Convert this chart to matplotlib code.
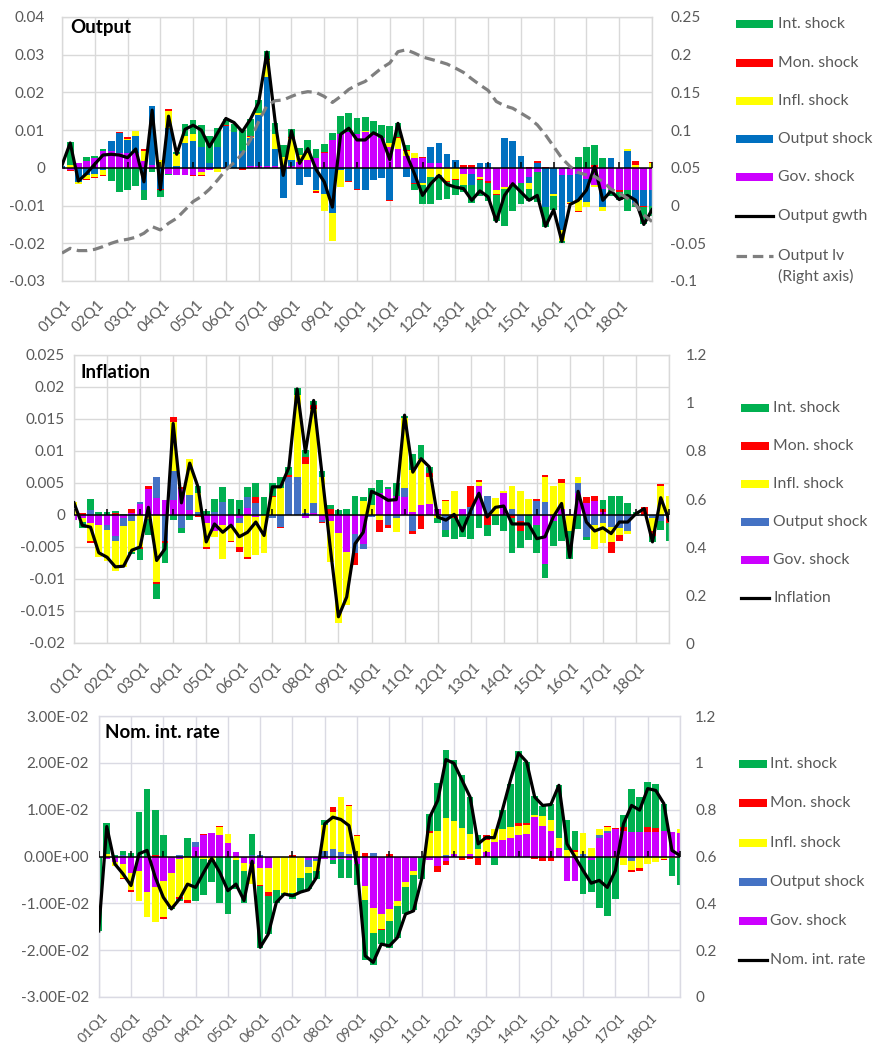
import numpy as np
import matplotlib
matplotlib.use('Agg')
import matplotlib.pyplot as plt
from matplotlib.patches import Rectangle
from matplotlib.lines import Line2D
from matplotlib.transforms import ScaledTranslation

plt.rcParams['font.family'] = ['Lato', 'DejaVu Sans']

# ---------------- data ----------------
quarters = [f"{y:02d}Q{q}" for y in range(1, 20) for q in range(1, 5)][:73]
tick_labels = [q if q != '19Q1' else '' for q in quarters[::4]]

shock_names = ['Int. shock', 'Mon. shock', 'Infl. shock', 'Output shock', 'Gov. shock']

# Output panel
out_gov = [-0.0003,-0.0005,0.0013,0.0017,0.0025,0.0045,0.0045,0.004,0.004,0.004,
 0.0018,0.0008,0.0002,-0.0015,-0.0018,-0.002,-0.002,-0.001,-0.0005,0,
 0.0003,0,0,0.0005,0.0005,0.0005,0.0005,0.0005,0.0005,0.0015,
 0.002,0.0025,0.004,0.0075,0.009,0.0095,0.009,0.0095,0.009,0.008,
 0.0055,0.005,0.0032,0.0025,0.0025,0.0013,0.0012,0.0003,0,-0.0015,
 -0.0015,-0.0025,-0.0035,-0.006,-0.005,-0.0045,-0.004,-0.0025,-0.001,0,
 0,-0.0018,-0.0018,-0.0015,-0.003,-0.0045,-0.0055,-0.006,-0.006,-0.006,
 -0.006,-0.006,-0.006]
out_out = [0.0005,0,-0.0037,-0.002,-0.0015,-0.0007,0.0025,0.0053,0.0033,0.0045,
 -0.006,0.0157,-0.0055,0.0105,0.0005,0.0065,0.0072,0.0056,0.0012,0.0055,
 0.0107,0.0095,0.0045,0.0075,0.0135,0.0235,0.0045,-0.008,0.0015,-0.0045,
 -0.0025,-0.0058,-0.0068,-0.012,-0.0005,-0.0035,-0.0055,-0.006,-0.0033,-0.0028,
 -0.0085,0,-0.0025,-0.004,-0.004,0.0042,0.0053,0.0034,0.002,0,
 -0.003,0.0013,0.0012,0,0.0078,0.0072,0.0032,-0.0015,0.0012,-0.0105,
 -0.007,-0.0147,-0.0072,-0.007,-0.006,0,-0.005,0.0025,0,0.0045,
 -0.0035,-0.004,-0.004]
out_infl = [0,0.0008,-0.0005,-0.001,-0.0009,-0.0012,0,0,0.0004,0.0012,
 0.0027,0,0.0018,0.0045,0.0033,0.002,0.0018,-0.0008,0,-0.001,
 0,0,0,0.0002,0.0005,0.0045,0.004,0.0025,0.006,0.0018,
 0.002,-0.0003,-0.0047,-0.0073,-0.0045,0,0,0.0003,0,0,
 0.001,0.003,0.0013,0.0015,-0.0005,-0.0025,-0.002,-0.0035,-0.003,-0.003,
 0,-0.0005,0,-0.001,-0.0005,0,0,-0.0015,0.0002,0,
 -0.0005,-0.003,-0.0003,-0.003,-0.0015,-0.0005,-0.001,0,0,0.0005,
 0.0008,0,0.0012]
out_mon = [0,-0.0003,0,-0.0003,-0.0002,-0.0002,0.0002,0.0002,0.0005,0,
 0.0005,0,-0.0003,0.0005,0,0,-0.0002,-0.0003,-0.0002,0,
 0.0003,0,-0.0005,0.0003,0,0.0003,0,0,0.0002,0,
 0.0006,-0.0005,0.0003,0,0,-0.0003,-0.0003,0,0.0003,0,
 -0.0003,0.0003,0.0003,-0.0003,0.0003,0.0001,0,-0.0003,-0.0002,0.0008,
 0.0008,-0.0003,-0.0005,-0.0002,0.0002,-0.0003,0,0.0002,0.0003,0.0002,
 0,0,-0.0002,-0.0003,0,0.0008,0,0,-0.0003,0,
 0.001,-0.0003,0.0003]
out_int = [0,0.006,-0.0002,0.0012,0.0006,0.0006,-0.0035,-0.0063,-0.0058,-0.0047,
 -0.0025,-0.0012,-0.0019,-0.0005,0.0004,0.0032,0.0038,0.0057,0.0073,0.005,
 0.0017,0.002,0.0055,0.0045,0.0035,0.0022,0.0028,0.003,0.0021,0.002,
 0.0029,0.0025,0.002,0.0018,0.0048,0.005,0.0043,0.0037,0.0032,0.0033,
 0.0045,0.0035,0.0012,-0.0015,-0.0052,-0.007,-0.0065,-0.0044,-0.004,-0.0018,
 -0.0049,-0.0041,-0.0049,-0.007,-0.0098,-0.0066,-0.0056,-0.0033,-0.008,-0.0052,
 -0.0036,-0.0005,-0.0002,0.003,0.0055,0.0052,0.0025,-0.0015,-0.0022,-0.0055,
 -0.001,-0.0045,-0.0028]
output_gwth = [0.0007,0.0066,-0.0035,-0.0015,0.001,0.0034,0.0036,0.0034,0.0027,0.005,
 -0.0037,0.0153,-0.0058,0.0137,0.0036,0.0102,0.0113,0.010,0.0056,0.0093,
 0.0131,0.012,0.0096,0.0129,0.0173,0.0307,0.0125,-0.002,0.0098,0.0012,
 0.0051,-0.0004,-0.0037,-0.0104,0.0089,0.0105,0.0074,0.0074,0.0093,0.0082,
 0.0022,0.0118,0.0038,-0.0015,-0.0073,-0.0042,-0.002,-0.0044,-0.0051,-0.0055,
 -0.0086,-0.0061,-0.0077,-0.0142,-0.0073,-0.0042,-0.0064,-0.0086,-0.0073,-0.0155,
 -0.0111,-0.0195,-0.0097,-0.0086,-0.0059,0.0004,-0.0086,-0.0061,-0.0084,-0.0073,
 -0.0086,-0.015,-0.0111]
output_lv = [-0.063,-0.0567,-0.0597,-0.0597,-0.058,-0.0544,-0.050,-0.0465,-0.0447,-0.042,
 -0.0367,-0.0279,-0.0323,-0.0235,-0.0168,-0.0058,0.0053,0.012,0.0217,0.034,
 0.0473,0.057,0.0686,0.0872,0.1115,0.1323,0.139,0.140,0.1447,0.149,
 0.151,0.150,0.1447,0.1367,0.1447,0.154,0.16,0.1646,0.1735,0.1823,
 0.189,0.204,0.2066,0.2022,0.197,0.194,0.191,0.1876,0.1823,0.1765,
 0.168,0.160,0.1527,0.138,0.1323,0.129,0.1226,0.116,0.107,0.0938,
 0.0783,0.0628,0.0518,0.0438,0.0407,0.0385,0.0318,0.0217,0.0164,0.0097,
 0.0009,-0.0124,-0.0212]

# Inflation panel
inf_gov = [-0.0008,-0.0005,-0.0012,-0.0015,-0.0015,-0.0033,-0.0005,0.0003,0.0017,0.004,
 0.0027,0.0023,0.0023,0.004,0.0008,0,-0.0012,-0.0025,-0.0015,-0.0018,
 -0.0005,0.0011,-0.0003,0,0,0,0,0,-0.0005,0.0003,
 -0.0008,-0.001,-0.0028,-0.0058,-0.003,-0.0045,0,0.0035,0.004,0.003,
 0.0028,0.0005,0.0015,0.0017,0.001,0,0,0.001,0,0.0045,
 0,0,0.0035,0,0,0,-0.0015,-0.0076,-0.001,0.001,
 0.0002,0.0035,0.0018,0.0022,0.0005,0,0,0,0,0,
 0,0,0]
inf_out = [0,0,0.0008,0,-0.0008,-0.0007,-0.0012,-0.001,0.0003,0,
 0.0033,-0.004,0.0045,-0.002,0.0024,0.0005,0,0.0005,0.002,0,
 -0.0008,0.0017,0.0018,0,-0.0005,-0.0018,0.006,0.006,0.0003,0.0015,
 -0.0003,0,0,0,-0.003,-0.0008,-0.0003,0,-0.0015,-0.0005,
 0.0014,-0.0025,0,0,0,-0.0023,0,0,0.0012,0,
 0.003,0,0,0.001,-0.001,0,0.0022,0.002,0,0,
 0,0.0015,-0.0035,-0.0016,-0.0013,-0.0018,-0.002,-0.0025,-0.0002,-0.0002,
 -0.0005,-0.001,-0.0005]
inf_infl = [0.002,-0.0006,-0.0028,-0.005,-0.0049,-0.0048,-0.0065,-0.0048,-0.005,-0.0007,
 -0.0105,0,0.0077,0,0.0056,0.003,-0.0038,-0.001,-0.0053,-0.0022,
 -0.0037,-0.0065,-0.006,-0.006,0.0028,0.0042,0,0.0128,0.0077,0.0147,
 0.006,-0.0063,-0.014,-0.0082,0,0.0022,0.0015,-0.0008,0,-0.0022,
 0.011,0.0065,0.0073,0.0043,-0.0005,0.0022,0.0038,0,0,0.0007,
 0,0.0027,0.0003,0.0035,0.0037,0.0025,0,0.004,0.0045,0.004,
 -0.0025,0.001,0,-0.0037,-0.003,-0.0024,-0.0012,-0.0004,0.0001,0,
 -0.002,0.0045,0.003]
inf_mon = [0,0.0003,-0.0003,0,0,0.0003,0,0.0006,-0.0003,0.0005,
 -0.0003,-0.0003,0.0008,0.0004,0,-0.0003,-0.0003,0,0,-0.0002,
 -0.0008,-0.0003,0.001,0,0.0002,-0.0002,0.0003,0,0.0011,0.0007,
 -0.0002,0.001,0,0,-0.0018,0,0,-0.0019,-0.0005,0,
 0,-0.0005,-0.0022,0.0006,0,0.0002,-0.0005,0,0.0033,0.0003,
 -0.0015,0,0,-0.0005,-0.0015,0,0.0003,0.0003,0,0.0007,
 0,0,0.001,0.0007,0.0005,-0.0017,-0.0008,0,0,0.0012,
 -0.0008,0.0003,-0.0007]
inf_int = [0,-0.0009,0.0017,0.0005,0.0005,0.0003,0.0002,-0.0003,-0.0018,-0.0025,
 -0.0023,-0.0032,-0.0008,-0.0008,-0.0008,0.0011,0.0007,0.002,0.0023,0.0025,
 0.0023,0.0015,0.0022,0.0028,0.002,0.0018,0.0012,0.001,0.0011,0.0006,
 0.0008,0.0005,0.0008,0.001,0.003,0.0006,0.0027,0.002,0.0003,0.002,
 0.0003,0.0025,0.0021,0.0009,-0.0008,-0.0012,-0.0033,-0.0035,-0.0038,-0.002,
 -0.0018,-0.0015,-0.0025,-0.0055,-0.0026,-0.0039,-0.0045,-0.0022,-0.0038,-0.004,
 -0.0043,-0.0022,-0.0004,0,0.0013,0.003,0.0029,0.0018,0.0004,0,
 -0.0009,-0.0013,-0.0028]
inflation = [0.0019,-0.0016,-0.0019,-0.0059,-0.0066,-0.0081,-0.008,-0.0055,-0.005,0.0012,
 -0.0071,-0.0053,0.0143,0.0019,0.0081,0.0044,-0.0042,-0.0014,-0.0027,-0.0016,
 -0.0034,-0.0027,-0.0011,-0.0032,0.0044,0.0044,0.0074,0.0197,0.0098,0.0179,
 0.0065,-0.005,-0.0159,-0.0128,-0.0045,-0.0027,0.0037,0.0031,0.0023,0.0024,
 0.0156,0.0067,0.0088,0.0075,-0.0003,-0.0008,0.0001,-0.0025,0.0007,0.0034,
 -0.0003,0.0012,0.0014,-0.0014,-0.0014,-0.0014,-0.0037,-0.0034,-0.0003,0.0018,
 -0.0066,0.0037,-0.0011,-0.0025,-0.002,-0.0029,-0.0011,-0.0011,0.0002,0.001,
 -0.0042,0.0027,-0.0008]

# Nominal interest rate panel
rate_gov = [0,-0.0005,-0.0012,-0.0015,-0.0035,-0.003,-0.0075,-0.0065,-0.0052,-0.0035,
 -0.0005,0,0.002,0.0045,0.005,0.0045,0.0028,0.001,-0.0013,-0.0015,
 -0.0025,-0.0025,0,0,0,0,-0.0008,-0.0005,-0.0005,-0.0008,
 -0.0005,-0.0008,-0.0015,-0.0063,-0.011,-0.0123,-0.0113,-0.0095,-0.0055,-0.003,
 -0.0003,-0.0008,-0.002,-0.001,0.0005,0,0.0005,0,0.001,0.003,
 0.0035,0.004,0.0045,0.0048,0.0085,0.0065,0.0055,0.0018,-0.0052,-0.0053,
 0,-0.0008,0.004,0.005,0.0058,0.0055,0.0053,0.0053,0.0053,0.0053,
 0.0055,0.0053,0.005]
rate_out = [0,0,0,0.0003,0,0,0,0,0,0,
 0.0003,0,0.001,0,0,0,0,0,0,0.0003,
 0.0003,0,0,0,0,0,-0.0015,-0.0005,0.0012,0.0015,
 0.001,0.0005,0,0,0.0007,0,0,0,0,0,
 0,0,0,0.0003,0,0,0,-0.0003,0,0,
 0,0,0,0,0,0,0,0,0,0,
 0.0005,0,0.0005,0.0005,0,0,-0.001,0,0,0,
 0,0,0]
rate_infl = [0,0.0005,-0.0008,-0.003,-0.0037,-0.0065,-0.0055,-0.0075,-0.0078,-0.0075,
 -0.0082,-0.0092,0,-0.0005,-0.0008,0.0017,0.002,-0.0007,-0.0019,-0.0043,
 -0.0035,-0.005,-0.0072,-0.0078,-0.0078,-0.0045,-0.0012,-0.002,0.0056,0.008,
 0.0117,0.0103,0.0043,-0.003,-0.0053,-0.0032,-0.0025,-0.001,-0.001,-0.001,
 0,0.005,0.0055,0.0079,0.007,0.006,0.0043,0.0015,0.0025,0.0028,
 0.0023,0.0023,0.002,0.002,0.0003,0.0022,0.0022,0.0022,0.0013,0.001,
 0.0045,0.0018,0.0013,0.0007,-0.0003,-0.0018,-0.0018,-0.0025,-0.0015,-0.0012,
 -0.0005,-0.0003,0.0008]
rate_mon = [0,0,0,-0.0003,-0.0003,0,0,0.0003,-0.0003,0,
 -0.0003,-0.0007,0,0.0003,0,0.0003,0,0,0,0,
 -0.0003,-0.001,0,0,0.0003,0,0,0,0,0.001,
 0,0.0003,0.0003,0.0008,0,-0.0003,0.0005,0,0,0,
 0,0.0005,-0.0013,-0.0008,0,-0.0008,-0.0005,-0.0015,0.001,0,
 0,0,0.0007,0.0003,-0.0005,-0.001,-0.001,0,0,0.0003,
 0,0,0,0.0003,0.0002,0.0008,-0.0005,-0.0005,0.001,0.0007,
 -0.0003,0,0]
rate_int = [-0.016,0.0067,0.0004,0.0008,0.0007,0.0095,0.0145,0.0097,0.0046,-0.0002,
 -0.0004,0.004,-0.0096,-0.0077,-0.0047,-0.01,-0.0122,-0.0062,-0.0068,0.0045,
 -0.0132,-0.008,-0.0027,-0.0004,-0.0012,-0.003,-0.0035,-0.0017,0.001,-0.0009,
 -0.004,-0.0037,-0.0045,-0.0127,-0.0069,-0.0029,-0.0058,-0.0068,-0.0058,-0.0075,
 -0.0045,0.0035,0.0102,0.0146,0.013,0.0115,0.008,0.003,-0.0002,-0.0018,
 0.0042,0.0092,0.0153,0.0131,0.0042,0.0021,0.0035,0.0112,0.0065,0.0042,
 -0.008,-0.0067,-0.011,-0.0128,-0.0087,0.0025,0.0092,0.0075,0.0097,0.0095,
 0.0058,-0.0039,-0.006]
nom_rate = [-0.0159,0.0064,-0.0016,-0.0037,-0.0062,0.0006,0.0013,-0.0044,-0.0087,-0.0112,
 -0.0091,-0.0059,-0.0066,-0.0034,-0.0004,-0.0034,-0.0073,-0.0059,-0.0094,-0.001,
 -0.0194,-0.0166,-0.0098,-0.008,-0.0084,-0.0076,-0.0071,-0.0044,0.007,0.0084,
 0.0079,0.0066,-0.002,-0.0212,-0.0226,-0.0187,-0.0191,-0.0173,-0.0123,-0.0116,
 -0.0048,0.0084,0.012,0.0207,0.0199,0.0163,0.0127,0.0027,0.0041,0.004,
 0.0099,0.0163,0.0221,0.0202,0.0127,0.0109,0.0111,0.0152,0.0027,-0.0001,
 -0.003,-0.0057,-0.0051,-0.0066,-0.003,0.007,0.0109,0.0099,0.0145,0.0141,
 0.0113,0.0013,0.0002]

# ---------------- styling ----------------
GREEN, RED, YELLOW, PURPLE = '#00B050', '#FF0000', '#FFFF00', '#CC00FF'
BLUE1, BLUE2 = '#0070C0', '#4472C4'
GRID = '#D9D9D9'
TXT = '#595959'

W, H = 880, 1048
fig = plt.figure(figsize=(W / 100, H / 100), dpi=100)
x = np.arange(len(quarters))


def px_axes(l, t, r, b):
    return fig.add_axes([l / W, 1 - b / H, (r - l) / W, (b - t) / H])


def stacked(ax, comps, colors):
    pos = np.zeros(len(x))
    neg = np.zeros(len(x))
    for vals, c in zip(comps, colors):
        v = np.asarray(vals, dtype=float)
        bottom = np.where(v >= 0, pos, neg)
        ax.bar(x, v, 0.82, bottom=bottom, color=c, linewidth=0, zorder=2)
        pos += np.where(v > 0, v, 0)
        neg += np.where(v < 0, v, 0)


def setup(ax, ylim, yticks, ylabels, lpad, grid_color=GRID, xpad=15.8, xsize=11):
    ax.set_xlim(0, 72)
    ax.set_ylim(*ylim)
    ax.set_yticks(yticks)
    ax.set_yticklabels(ylabels)
    ax.set_xticks(x[::4])
    ax.set_xticklabels(tick_labels, rotation=45, ha='right', va='center',
                       rotation_mode='anchor')
    ax.grid(True, color=grid_color, lw=1.0, zorder=0)
    ax.set_axisbelow(True)
    for s in ax.spines.values():
        s.set_color(grid_color)
        s.set_linewidth(1.0)
    ax.tick_params(axis='both', length=0, labelsize=11, labelcolor=TXT)
    ax.tick_params(axis='y', pad=lpad)
    ax.tick_params(axis='x', pad=xpad, labelsize=xsize)
    off = ScaledTranslation(7.5 / 100, 0, fig.dpi_scale_trans)
    for lab in ax.get_xticklabels():
        lab.set_transform(lab.get_transform() + off)
    ax.axhline(0, color='black', lw=1.1, zorder=3)
    ax.plot(x[::4], np.zeros(len(x[::4])), ls='none', marker=2, ms=4.5,
            mew=1.1, color='black', zorder=3)


def right_axis(ax, ylim, yticks, ylabels, pad):
    ax2 = ax.twinx()
    ax2.set_ylim(*ylim)
    ax2.set_yticks(yticks)
    ax2.set_yticklabels(ylabels)
    for s in ax2.spines.values():
        s.set_visible(False)
    ax2.tick_params(axis='y', length=0, labelsize=11, labelcolor=TXT, pad=pad)
    return ax2


def legend(x0, keyw, xt, entries):
    for y, kind, color, label in entries:
        if kind == 'patch':
            fig.add_artist(Rectangle((x0 / W, 1 - (y + 4) / H), keyw / W, 8 / H,
                                     transform=fig.transFigure, fc=color, ec='none'))
        else:
            fig.add_artist(Line2D([x0 / W, (x0 + keyw) / W], [1 - y / H] * 2,
                                  transform=fig.transFigure, color=color, lw=2.3,
                                  ls=kind, dash_capstyle='butt'))
        fig.text(xt / W, 1 - y / H, label, ha='left', va='center',
                 fontsize=11.3, color=TXT)


# ---------------- Panel 1: Output ----------------
ax1 = px_axes(62, 17, 652, 281)
stacked(ax1, [out_gov, out_out, out_infl, out_mon, out_int],
        [PURPLE, BLUE1, YELLOW, RED, GREEN])
yt1 = [-0.03, -0.02, -0.01, 0, 0.01, 0.02, 0.03, 0.04]
setup(ax1, (-0.03, 0.04), yt1, ['-0.03', '-0.02', '-0.01', '0', '0.01', '0.02', '0.03', '0.04'], 12.2)
ax1.plot(x, output_gwth, color='black', lw=2.3, zorder=4)
ax1r = right_axis(ax1, (-0.1, 0.25), [-0.1, -0.05, 0, 0.05, 0.1, 0.15, 0.2, 0.25],
                  ['-0.1', '-0.05', '0', '0.05', '0.1', '0.15', '0.2', '0.25'], 13)
ax1r.plot(x, output_lv, color='#7F7F7F', lw=2.3, ls=(0, (3.3, 1.8)),
          dash_capstyle='butt', zorder=4)
ax1.text(70 / W, 1 - 27 / H, 'Output', transform=fig.transFigure, fontsize=13.5,
         fontweight='bold', va='center', ha='left', color='black', zorder=10)
legend(735.7, 37.6, 778, [
    (24.3, 'patch', GREEN, shock_names[0]),
    (62.7, 'patch', RED, shock_names[1]),
    (100.7, 'patch', YELLOW, shock_names[2]),
    (139.3, 'patch', BLUE1, shock_names[3]),
    (177.3, 'patch', PURPLE, shock_names[4]),
    (215.7, '-', 'black', 'Output gwth'),
    (255.7, (0, (3.3, 1.8)), '#7F7F7F', 'Output lv'),
])
fig.text(778 / W, 1 - 276.5 / H, '(Right axis)', ha='left', va='center',
         fontsize=11.3, color=TXT)

# ---------------- Panel 2: Inflation ----------------
ax2 = px_axes(74, 355, 669, 643)
stacked(ax2, [inf_gov, inf_out, inf_infl, inf_mon, inf_int],
        [PURPLE, BLUE2, YELLOW, RED, GREEN])
yt2 = [-0.02, -0.015, -0.01, -0.005, 0, 0.005, 0.01, 0.015, 0.02, 0.025]
setup(ax2, (-0.02, 0.025), yt2,
      ['-0.02', '-0.015', '-0.01', '-0.005', '0', '0.005', '0.01', '0.015', '0.02', '0.025'], 6.5)
ax2.plot(x, inflation, color='black', lw=2.3, zorder=4)
right_axis(ax2, (0, 1.2), [0, 0.2, 0.4, 0.6, 0.8, 1.0, 1.2],
           ['0', '0.2', '0.4', '0.6', '0.8', '1', '1.2'], 12)
ax2.text(81 / W, 1 - 373 / H, 'Inflation', transform=fig.transFigure, fontsize=13.5,
         fontweight='bold', va='center', ha='left', color='black', zorder=10)
legend(741, 28.3, 773, [
    (407.7, 'patch', GREEN, shock_names[0]),
    (445.7, 'patch', RED, shock_names[1]),
    (484, 'patch', YELLOW, shock_names[2]),
    (522, 'patch', BLUE2, shock_names[3]),
    (560, 'patch', PURPLE, shock_names[4]),
    (598.3, '-', 'black', 'Inflation'),
])

# ---------------- Panel 3: Nominal interest rate ----------------
ax3 = px_axes(98.7, 716, 680, 997)
stacked(ax3, [rate_gov, rate_out, rate_infl, rate_mon, rate_int],
        [PURPLE, BLUE2, YELLOW, RED, GREEN])
yt3 = [-0.03, -0.02, -0.01, 0, 0.01, 0.02, 0.03]
setup(ax3, (-0.03, 0.03), yt3,
      ['-3.00E-02', '-2.00E-02', '-1.00E-02', '0.00E+00', '1.00E-02', '2.00E-02', '3.00E-02'],
      7.0, grid_color='#DADAE3', xpad=13.0, xsize=10.3)
ax3.plot(x, nom_rate, color='black', lw=2.3, zorder=4)
right_axis(ax3, (0, 1.2), [0, 0.2, 0.4, 0.6, 0.8, 1.0, 1.2],
           ['0', '0.2', '0.4', '0.6', '0.8', '1', '1.2'], 11)
ax3.text(105 / W, 1 - 733 / H, 'Nom. int. rate', transform=fig.transFigure, fontsize=13.5,
         fontweight='bold', va='center', ha='left', color='black', zorder=10)
legend(738.7, 28, 770, [
    (764, 'patch', GREEN, shock_names[0]),
    (803.3, 'patch', RED, shock_names[1]),
    (842.7, 'patch', YELLOW, shock_names[2]),
    (882.3, 'patch', BLUE2, shock_names[3]),
    (921, 'patch', PURPLE, shock_names[4]),
    (960, '-', 'black', 'Nom. int. rate'),
])

fig.savefig('out.png', dpi=100, facecolor='white')
